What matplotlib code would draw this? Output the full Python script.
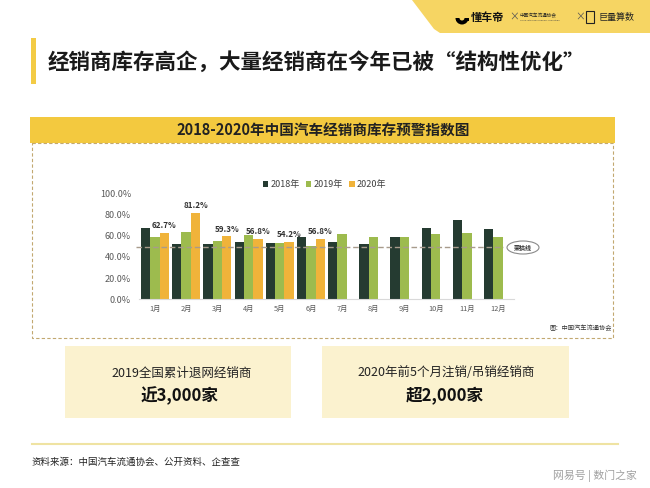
import matplotlib
matplotlib.use('Agg')
import matplotlib.pyplot as plt
import matplotlib.transforms as mtransforms
from matplotlib.patches import Rectangle, Polygon, Ellipse, Wedge
import numpy as np

plt.rcParams['font.family'] = ['Noto Sans CJK SC', 'DejaVu Sans']

# 数据
months = ['1月', '2月', '3月', '4月', '5月', '6月', '7月', '8月', '9月', '10月', '11月', '12月']
series_names = ['2018年', '2019年', '2020年']
v2018 = [67.0, 51.9, 52.0, 54.4, 53.5, 59.1, 53.8, 52.2, 58.5, 67.0, 75.2, 66.0]
v2019 = [58.5, 63.2, 55.0, 60.7, 53.5, 50.0, 62.0, 59.1, 58.5, 62.0, 62.3, 58.5]
v2020 = [62.7, 81.2, 59.3, 56.8, 54.2, 56.8, np.nan, np.nan, np.nan, np.nan, np.nan, np.nan]
y_ticks = [0, 20, 40, 60, 80, 100]
threshold = 49.0
colors = ['#253B31', '#9DBB4E', '#F0B33A']

fig = plt.figure(figsize=(6.5, 4.88), dpi=100)

# 背景层, 像素坐标
bg = fig.add_axes([0, 0, 1, 1])
bg.set_xlim(0, 650)
bg.set_ylim(488, 0)
bg.axis('off')

# 右上角黄色标签
bg.add_patch(Polygon([(412, 0), (650, 0), (650, 33), (440, 33), (434, 29)],
                     closed=True, facecolor='#F6D563', edgecolor='none'))
bg.add_patch(Wedge((462, 18), 6.5, 0, 180, facecolor='black'))
bg.add_patch(Rectangle((455.5, 18), 13, 3, facecolor='black'))
bg.add_patch(Wedge((462, 18), 2.5, 0, 180, facecolor='#F6D563'))
bg.text(471, 17, '懂车帝', fontsize=8, fontweight='bold', color='#111', va='center')
bg.text(509, 17, '×', fontsize=7, color='#555', va='center')
bg.text(520, 15.5, '中国汽车流通协会', fontsize=3.3, color='#222', va='center')
bg.text(520, 20.5, 'China Automobile Dealers Association', fontsize=1.6, color='#444', va='center')
bg.text(575, 17, '×', fontsize=7, color='#555', va='center')
bg.add_patch(Rectangle((586, 11), 8, 12, facecolor='none', edgecolor='#222', lw=0.8))
bg.text(598, 17, '巨量算数', fontsize=6.5, color='#222', va='center')

# 标题
bg.add_patch(Rectangle((31, 38), 5, 46, facecolor='#F3CB45', edgecolor='none'))
bg.text(48, 62, '经销商库存高企，大量经销商在今年已被“结构性优化”',
        fontsize=15.5, fontweight='bold', color='#1A1A1A', va='center')

# 图表标题栏与虚线框
bg.add_patch(Rectangle((30, 117), 585, 26, facecolor='#F3C93F', edgecolor='none'))
bg.text(323, 130.5, '2018-2020年中国汽车经销商库存预警指数图',
        fontsize=10.5, fontweight='bold', color='#222', ha='center', va='center')
bg.add_patch(Rectangle((32, 143), 581, 195, facecolor='none', edgecolor='#C2A870',
                       lw=0.8, linestyle=(0, (3, 2))))
bg.text(612, 328, '图：中国汽车流通协会', fontsize=4.5, color='#333', ha='right', va='center')

# 荣枯线标注
bg.add_patch(Ellipse((523, 247.5), 32, 13, facecolor='white', edgecolor='#8A8A8A', lw=0.8))
bg.text(523, 247.5, '荣枯线', fontsize=4.3, fontweight='bold', color='#333', ha='center', va='center')

# 底部信息框
bg.add_patch(Rectangle((65, 346), 226, 72, facecolor='#FBF2CF', edgecolor='none'))
bg.add_patch(Rectangle((322, 346), 247, 72, facecolor='#FBF2CF', edgecolor='none'))
bg.text(182, 373, '2019全国累计退网经销商', fontsize=9, color='#222', ha='center', va='center')
bg.text(180, 396, '近3,000家', fontsize=12, fontweight='bold', color='#111', ha='center', va='center')
bg.text(446, 373, '2020年前5个月注销/吊销经销商', fontsize=9, color='#222', ha='center', va='center')
bg.text(445, 396, '超2,000家', fontsize=12, fontweight='bold', color='#111', ha='center', va='center')

# 分隔线与来源
bg.plot([32, 618], [444, 444], color='#EFE3A2', lw=1.5)
bg.text(31, 462, '资料来源：中国汽车流通协会、公开资料、企查查', fontsize=6.8, color='#222', va='center')
bg.text(553, 476, '网易号 | 数门之家', fontsize=7.8, color='#A0A0A0', va='center')

# 柱状图
ax = fig.add_axes([139.4 / 650, (488 - 299.3) / 488, (513.6 - 139.4) / 650, 106 / 488])
ax.patch.set_alpha(0)
x = np.arange(len(months))
w = 0.3
for i, (name, vals) in enumerate(zip(series_names, [v2018, v2019, v2020])):
    ax.bar(x + (i - 1) * w, vals, width=w, color=colors[i], label=name)
    if i == 2:
        for xi, v in zip(x, vals):
            if not np.isnan(v):
                ax.annotate(f'{v:.1f}%', (xi + w, v), xytext=(0, 2), textcoords='offset points',
                            ha='center', va='bottom', fontsize=5.8, fontweight='bold', color='#333')

trans = mtransforms.blended_transform_factory(ax.transAxes, ax.transData)
ax.plot([-0.01, 0.972], [threshold, threshold], transform=trans, color='#A89B8C',
        lw=1, linestyle=(0, (4, 2)), clip_on=False)

ax.set_xlim(-0.5, 11.5)
ax.set_ylim(0, 100)
ax.set_yticks(y_ticks)
ax.set_yticklabels([f'{t:.1f}%' for t in y_ticks])
ax.set_xticks(x)
ax.set_xticklabels(months)
ax.tick_params(axis='y', length=0, pad=6, labelsize=6.5, labelcolor='#595959')
ax.tick_params(axis='x', length=0, pad=4, labelsize=5.3, labelcolor='#595959')
for s in ['top', 'right', 'left']:
    ax.spines[s].set_visible(False)
ax.spines['bottom'].set_color('#D9D9D9')
ax.spines['bottom'].set_linewidth(0.8)

ax.legend(loc='center', bbox_to_anchor=(0.495, 1.08), ncol=3, frameon=False, fontsize=6.5,
          handlelength=0.6, handleheight=0.6, handletextpad=0.25, columnspacing=0.7,
          labelcolor='#404040')

fig.savefig('out.png', dpi=100)
